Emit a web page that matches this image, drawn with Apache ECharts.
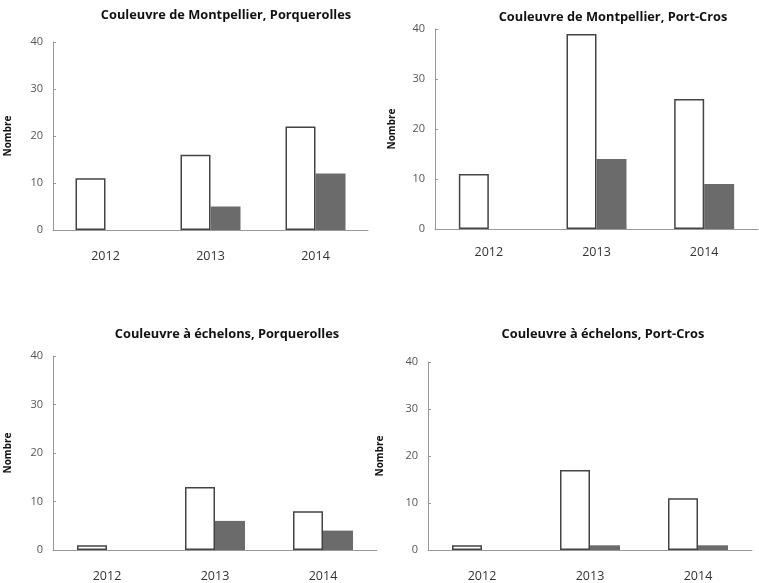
<!DOCTYPE html>
<html>
<head>
<meta charset="utf-8">
<script src="https://cdn.jsdelivr.net/npm/echarts@6/dist/echarts.min.js"></script>
<style>html,body{margin:0;padding:0;background:#fff}#c{width:759px;height:583px}</style>
</head>
<body>
<div id="c"></div>
<script>
const years = ['2012', '2013', '2014'];
const yTicks = [0, 10, 20, 30, 40];
const titles = [
  'Couleuvre de Montpellier, Porquerolles',
  'Couleuvre de Montpellier, Port-Cros',
  'Couleuvre à échelons, Porquerolles',
  'Couleuvre à échelons, Port-Cros'
];
const whiteMontPorq = [11, 16, 22];
const greyMontPorq = [0, 5, 12];
const whiteMontPC = [11, 39, 26];
const greyMontPC = [0, 14, 9];
const whiteEchPorq = [1, 13, 8];
const greyEchPorq = [0, 6, 4];
const whiteEchPC = [1, 17, 11];
const greyEchPC = [0, 1, 1];

const whiteSets = [whiteMontPorq, whiteMontPC, whiteEchPorq, whiteEchPC];
const greySets = [greyMontPorq, greyMontPC, greyEchPorq, greyEchPC];

const grids = [
  {left: 53, top: 42, width: 315, height: 188},
  {left: 435, top: 29, width: 323, height: 200},
  {left: 53, top: 356, width: 324, height: 194},
  {left: 428, top: 362, width: 324, height: 188}
];
const titlePos = [[221, 4], [608, 6], [222, 323], [598, 323]];
const nameGaps = [40, 38, 40, 43];
const xMargins = [20, 17, 20, 20];

const font = '"Open Sans", sans-serif';
const option = {
  animation: false,
  backgroundColor: '#fff',
  title: titles.map((t, i) => ({
    text: t,
    left: titlePos[i][0],
    top: titlePos[i][1],
    textAlign: 'center',
    textStyle: {fontFamily: font, fontSize: 12.8, fontWeight: 'bold', color: '#111'}
  })),
  grid: grids,
  xAxis: grids.map((g, i) => ({
    type: 'category',
    gridIndex: i,
    data: years,
    axisLine: {lineStyle: {color: '#999', width: 1}},
    axisTick: {show: false},
    axisLabel: {fontFamily: font, fontSize: 12.5, color: '#333', margin: xMargins[i]}
  })),
  yAxis: grids.map((g, i) => ({
    type: 'value',
    gridIndex: i,
    min: yTicks[0],
    max: yTicks[yTicks.length - 1],
    interval: 10,
    name: 'Nombre',
    nameLocation: 'middle',
    nameGap: nameGaps[i],
    nameTextStyle: {fontFamily: font, fontSize: 10, fontWeight: 'bold', color: '#111'},
    axisLine: {show: true, lineStyle: {color: '#999', width: 1}},
    axisTick: {show: true, inside: true, length: 3, lineStyle: {color: '#999'}},
    splitLine: {show: false},
    axisLabel: {fontFamily: font, fontSize: 11, color: '#555', margin: 10}
  })),
  series: []
};
for (let i = 0; i < 4; i++) {
  option.series.push({
    type: 'bar', xAxisIndex: i, yAxisIndex: i,
    data: whiteSets[i], barWidth: 30, barGap: '0%',
    itemStyle: {color: '#fff', borderColor: '#444', borderWidth: 1.5}
  });
  option.series.push({
    type: 'bar', xAxisIndex: i, yAxisIndex: i,
    data: greySets[i], barWidth: 30, barGap: '0%',
    itemStyle: {color: '#6b6b6b'}
  });
}
const chart = echarts.init(document.getElementById('c'), null, {renderer: 'canvas'});
chart.setOption(option);
</script>
</body>
</html>
